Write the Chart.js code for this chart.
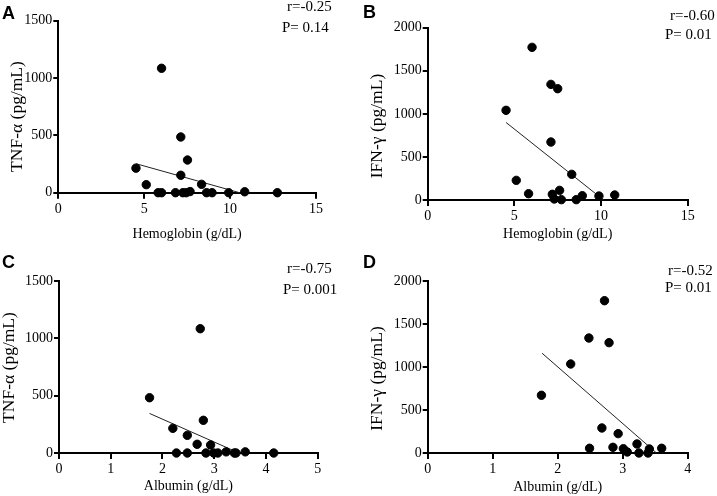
<!DOCTYPE html>
<html>
<head>
<meta charset="utf-8">
<script src="https://cdn.jsdelivr.net/npm/chart.js@4/dist/chart.umd.min.js"></script>
<style>
  body { margin: 0; background: #fff; width: 717px; height: 496px; position: relative; overflow: hidden; }
  .panel { position: absolute; width: 358px; height: 248px; }
</style>
</head>
<body>
<div class="panel" style="left:0;top:0"><canvas id="chA"></canvas></div>
<div class="panel" style="left:358px;top:0"><canvas id="chB"></canvas></div>
<div class="panel" style="left:0;top:248px"><canvas id="chC"></canvas></div>
<div class="panel" style="left:358px;top:248px"><canvas id="chD"></canvas></div>
<script>
// A: hemoglobin vs TNF-a
const hgbA = [4.52, 5.12, 6.01, 7.13, 7.52, 7.13, 8.34, 5.81, 6.01, 6.82, 7.25, 7.44, 7.67, 8.63, 8.95, 9.92, 10.85, 12.75];
const tnfA = [214, 70, 1085, 486, 285, 152, 73, 0, 0, 0, 0, 0, 10, 0, 0, 0, 8, 0];
const fitAx = [4.52, 10.55];
const fitAy = [253, 0];

// B: hemoglobin vs IFN-g
const hgbB = [6.02, 7.11, 7.5, 4.52, 7.11, 8.31, 5.11, 5.82, 7.19, 7.61, 7.3, 7.71, 8.57, 8.92, 9.88, 10.79];
const ifnB = [1772, 1342, 1292, 1041, 673, 298, 228, 73, 66, 112, 12, 4, 4, 50, 46, 58];
const fitBx = [4.52, 10.15];
const fitBy = [900, 0];

// C: albumin vs TNF-a
const albC = [2.73, 1.75, 2.79, 2.2, 2.48, 2.67, 2.93, 2.27, 2.48, 2.84, 2.99, 3.07, 3.23, 3.39, 3.42, 3.6, 4.15];
const tnfC = [1084, 482, 285, 215, 154, 76, 70, 0, 0, 0, 0, 0, 10, 0, 0, 10, 0];
const fitCx = [1.75, 3.48];
const fitCy = [345, 0];

// D: albumin vs IFN-g
const albD = [2.72, 2.48, 2.79, 2.2, 1.75, 2.68, 2.93, 3.22, 2.49, 2.85, 3.01, 3.07, 3.25, 3.39, 3.41, 3.6];
const ifnD = [1771, 1337, 1283, 1035, 671, 291, 225, 105, 55, 66, 50, 12, 0, 0, 47, 55];
const fitDx = [1.76, 3.52];
const fitDy = [1160, 0];

const serif = '"Liberation Serif", "Times New Roman", serif';

// panel letter, r / P notes and the rotated y title
const panelText = {
  id: 'panelText',
  afterDraw(chart, args, o) {
    const ctx = chart.ctx;
    ctx.save();
    ctx.fillStyle = '#000';
    ctx.textBaseline = 'alphabetic';
    ctx.textAlign = 'left';
    ctx.font = 'bold 18px "Liberation Sans", Arial, sans-serif';
    ctx.fillText(o.letter, o.lx, o.ly);
    ctx.font = '15px ' + serif;
    ctx.fillText(o.r, o.rx, o.ry);
    ctx.fillText(o.p, o.px, o.py);
    ctx.translate(o.tx, o.ty);
    ctx.rotate(-Math.PI / 2);
    ctx.textAlign = 'center';
    ctx.textBaseline = 'middle';
    ctx.font = '17.5px ' + serif;
    ctx.fillText(o.yTitle, 0, 0);
    ctx.restore();
  }
};

function pts(xs, ys) {
  return xs.map((x, i) => ({x: x, y: ys[i]}));
}

function makePanel(id, p) {
  const axisFont = {family: serif, size: 14};
  new Chart(document.getElementById(id), {
    type: 'scatter',
    data: {
      datasets: [
        {data: pts(p.xs, p.ys), backgroundColor: '#000', borderColor: '#000', pointRadius: 4.2, clip: false},
        {data: pts(p.fx, p.fy), showLine: true, borderColor: '#222', borderWidth: 1, pointRadius: 0, clip: false}
      ]
    },
    options: {
      responsive: true,
      maintainAspectRatio: false,
      animation: false,
      events: [],
      layout: {padding: {left: 0, top: p.top, right: p.right, bottom: 0}},
      plugins: {legend: {display: false}, tooltip: {enabled: false}, panelText: p.text},
      scales: {
        x: {
          min: 0, max: p.xmax,
          afterFit: s => { s.height = p.xh; },
          ticks: {stepSize: p.xstep, color: '#000', font: axisFont, padding: 2, callback: v => String(v)},
          grid: {drawOnChartArea: false, tickLength: 6, tickColor: '#000', lineWidth: 2},
          border: {display: true, color: '#000', width: 2},
          title: {display: true, text: p.xTitle, color: '#000', font: axisFont, padding: {top: 0, bottom: p.xtp}}
        },
        y: {
          min: 0, max: p.ymax,
          afterFit: s => { s.width = p.yw; },
          ticks: {stepSize: 500, color: '#000', font: axisFont, padding: 1, callback: v => String(v)},
          grid: {drawOnChartArea: false, tickLength: 5, tickColor: '#000', lineWidth: 2},
          border: {display: true, color: '#000', width: 2}
        }
      }
    },
    plugins: [panelText]
  });
}

makePanel('chA', {
  xs: hgbA, ys: tnfA, fx: fitAx, fy: fitAy, xmax: 15, xstep: 5, ymax: 1500,
  top: 20.7, right: 42, xh: 55.3, yw: 58.3, xTitle: 'Hemoglobin (g/dL)', xtp: 5,
  text: {letter: 'A', lx: 2, ly: 19, r: 'r=-0.25', rx: 287, ry: 11, p: 'P= 0.14', px: 282, py: 32,
         yTitle: 'TNF-\u03b1 (pg/mL)', tx: 17.5, ty: 116.5}
});
makePanel('chB', {
  xs: hgbB, ys: ifnB, fx: fitBx, fy: fitBy, xmax: 15, xstep: 5, ymax: 2000,
  top: 27.7, right: 28.3, xh: 48, yw: 69.7, xTitle: 'Hemoglobin (g/dL)', xtp: 5,
  text: {letter: 'B', lx: 5, ly: 18, r: 'r=-0.60', rx: 312, ry: 20, p: 'P= 0.01', px: 307, py: 39,
         yTitle: 'IFN-\u03b3 (pg/mL)', tx: 19.5, ty: 126}
});
makePanel('chC', {
  xs: albC, ys: tnfC, fx: fitCx, fy: fitCy, xmax: 5, xstep: 1, ymax: 1500,
  top: 33, right: 40.3, xh: 43, yw: 59, xTitle: 'Albumin (g/dL)', xtp: 1,
  text: {letter: 'C', lx: 2, ly: 20, r: 'r=-0.75', rx: 287, ry: 25, p: 'P= 0.001', px: 283, py: 46,
         yTitle: 'TNF-\u03b1 (pg/mL)', tx: 9.5, ty: 119.5}
});
makePanel('chD', {
  xs: albD, ys: ifnD, fx: fitDx, fy: fitDy, xmax: 4, xstep: 1, ymax: 2000,
  top: 33, right: 28.3, xh: 43, yw: 69.7, xTitle: 'Albumin (g/dL)', xtp: 0,
  text: {letter: 'D', lx: 5, ly: 20, r: 'r=-0.52', rx: 310, ry: 27, p: 'P= 0.01', px: 307, py: 44,
         yTitle: 'IFN-\u03b3 (pg/mL)', tx: 19.5, ty: 130.5}
});
</script>
</body>
</html>
